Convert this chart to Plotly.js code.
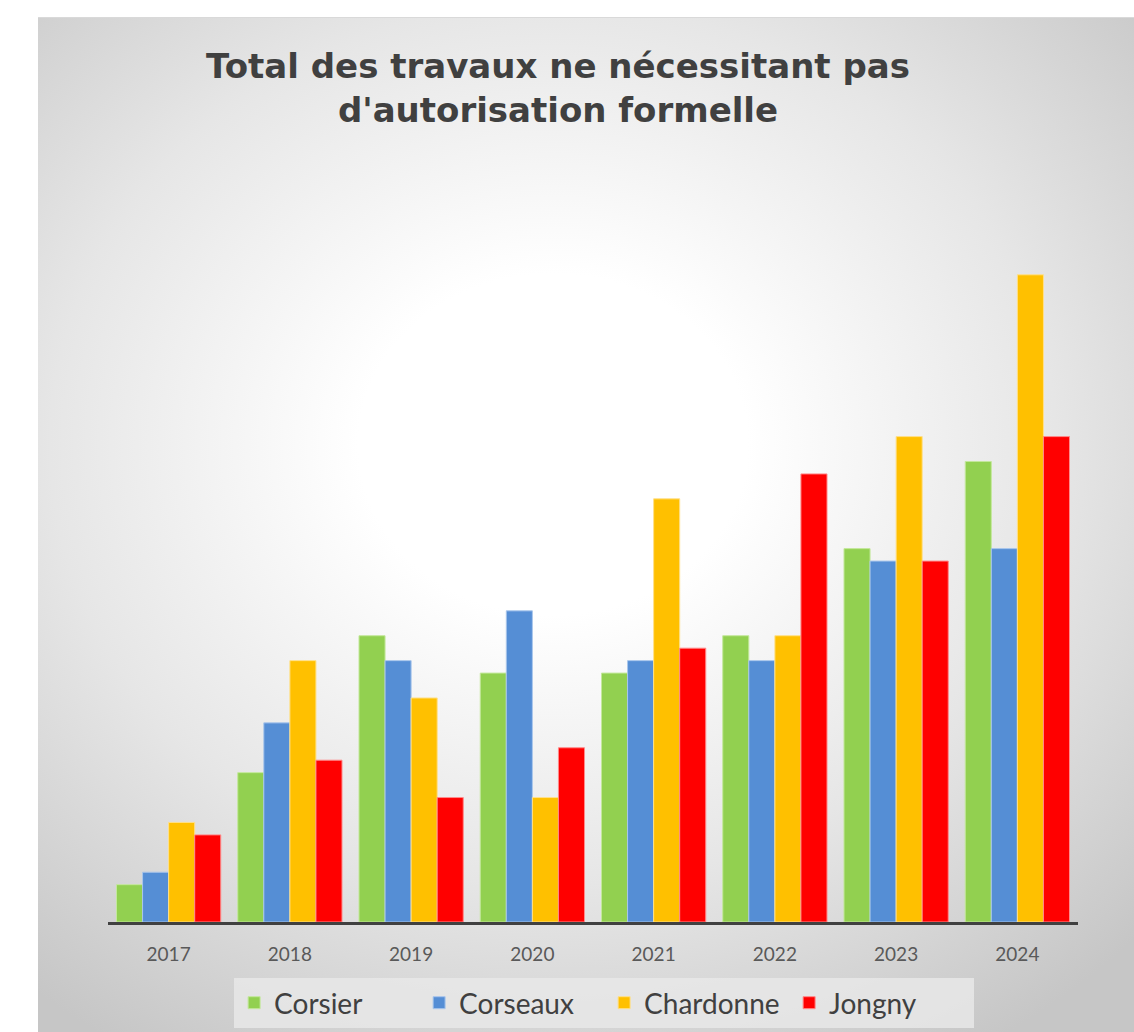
<!DOCTYPE html>
<html>
<head>
<meta charset="utf-8">
<script src="https://cdn.plot.ly/plotly-3.0.1.min.js"></script>
<style>
    html, body { margin: 0; padding: 0; background: #ffffff; }
    #panel {
        position: absolute; left: 38px; top: 17px; width: 1096px; height: 1015px;
        border-top: 1px solid #d9d9d9;
        background: radial-gradient(ellipse 74% 70% at 47% 42%, #ffffff 0%, #ffffff 24%, #e6e6e6 62%, #c6c6c6 100%);
    }
    #chart { position: absolute; left: 0; top: 0; width: 1134px; height: 1032px; }
</style>
</head>
<body>
<div id="panel"></div>
<div id="chart"></div>
<script>
    const years = ['2017', '2018', '2019', '2020', '2021', '2022', '2023', '2024'];
    const corsier = [3, 12, 23, 20, 20, 23, 30, 37];
    const corseaux = [4, 16, 21, 25, 21, 21, 29, 30];
    const chardonne = [8, 21, 18, 10, 34, 23, 39, 52];
    const jongny = [7, 13, 10, 14, 22, 36, 29, 39];

    const SERIES = [
        { name: 'Corsier', y: corsier, color: '#92D050', edge: '#c4e89c' },
        { name: 'Corseaux', y: corseaux, color: '#558ED5', edge: '#a9c6ec' },
        { name: 'Chardonne', y: chardonne, color: '#FFC000', edge: '#ffe08a' },
        { name: 'Jongny', y: jongny, color: '#FF0000', edge: '#ff8a8a' }
    ];

    const data = SERIES.map(s => ({
        type: 'bar', name: s.name, x: years, y: s.y,
        marker: { color: s.color, line: { color: s.edge, width: 1 } },
        hoverinfo: 'x+y+name'
    }));

    const layout = {
        width: 1134, height: 1032,
        paper_bgcolor: 'rgba(0,0,0,0)', plot_bgcolor: 'rgba(0,0,0,0)',
        margin: { l: 108, r: 56, t: 225, b: 110, autoexpand: false },
        barmode: 'group', bargap: 0.14, bargroupgap: 0,
        title: {
            text: 'Total des travaux ne nécessitant pas<br>d\'autorisation formelle',
            font: { family: 'DejaVu Sans, sans-serif', size: 34, color: '#404040', weight: 'bold' },
            x: 558 / 1134, xanchor: 'center', y: 1 - 78 / 1032, yanchor: 'middle'
        },
        xaxis: {
            type: 'category', showgrid: false, zeroline: false,
            showline: true, linecolor: '#404040', linewidth: 3,
            ticks: 'outside', ticklen: 13, tickcolor: 'rgba(0,0,0,0)',
            tickfont: { family: 'Lato, Open Sans, sans-serif', size: 19, color: '#595959' }
        },
        yaxis: {
            range: [0, 56], visible: false, showgrid: false, zeroline: false
        },
        showlegend: true,
        legend: {
            orientation: 'h', x: 580 / 1134, xanchor: 'center',
            y: -(1003 - 922) / 697, yanchor: 'middle', yref: 'paper',
            bgcolor: 'rgba(232,232,232,0.85)',
            entrywidth: 140, entrywidthmode: 'pixels',
            font: { family: 'Lato, Open Sans, sans-serif', size: 28, color: '#404040' },
            traceorder: 'normal'
        }
    };

    Plotly.newPlot('chart', data, layout, { displayModeBar: false, staticPlot: true });
</script>
</body>
</html>
